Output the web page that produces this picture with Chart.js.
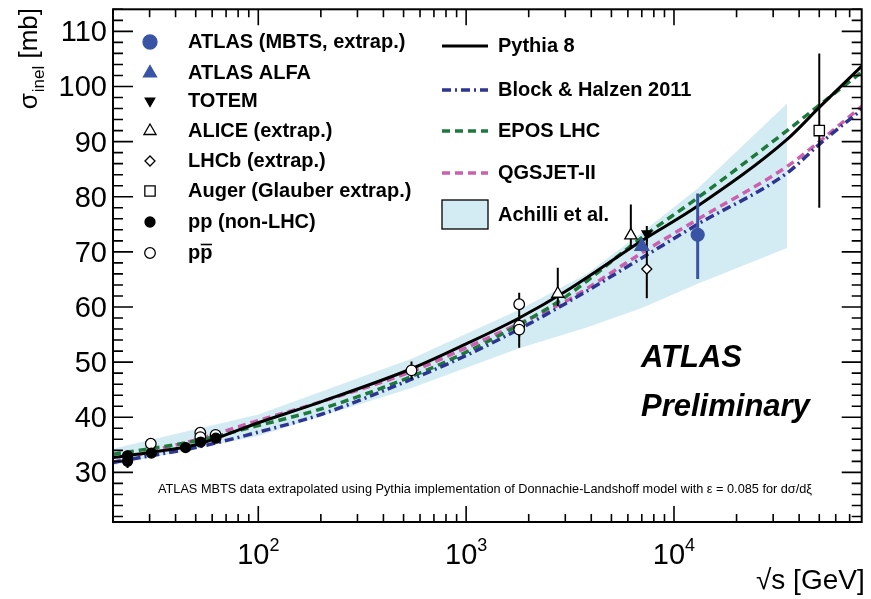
<!DOCTYPE html>
<html>
<head>
<meta charset="utf-8">
<script src="https://cdn.jsdelivr.net/npm/chart.js@4"></script>
<style>
  body { margin: 0; background: #fff; }
  canvas { display: block; }
</style>
</head>
<body>
<canvas id="chart" width="871" height="599"></canvas>
<script>
// model predictions, sampled at sqrt(s) in GeV
const modelEnergy = [20, 30, 50, 100, 200, 546, 1000, 1800, 3000, 7000, 13000, 35000, 50000, 80000];
const pythia8     = [32.7, 33.6, 35.0, 39.0, 42.8, 48.8, 53.3, 58.0, 62.8, 72.0, 78.3, 90.4, 96.2, 103.7];
const blockHalzen = [31.8, 33.0, 34.5, 37.3, 40.5, 46.9, 51.2, 56.0, 60.6, 68.9, 75.0, 84.3, 89.5, 95.8];
const eposLhc     = [33.3, 34.3, 35.7, 38.5, 41.5, 47.4, 51.8, 56.8, 61.8, 72.6, 79.8, 92.0, 96.6, 102.6];
const qgsjet2     = [31.8, 33.8, 35.9, 39.4, 42.8, 48.3, 52.6, 57.0, 61.0, 69.8, 75.9, 85.5, 90.0, 96.4];

// Achilli et al. band
const bandEnergy = [20, 100, 546, 1800, 3800, 7000, 13000, 35000];
const bandHigh   = [34.3, 40.5, 50.6, 59.5, 66.0, 73.5, 81.5, 96.9];
const bandLow    = [31.3, 36.6, 45.3, 52.5, 56.3, 59.8, 64.2, 70.7];

// measurements: energy, sigma_inel, error up, error down
const atlasMbtsE = [13000], atlasMbtsS = [73.1], atlasMbtsUp = [7.5], atlasMbtsDn = [8.0];
const atlasAlfaE = [7000], atlasAlfaS = [71.0], atlasAlfaUp = [0.9], atlasAlfaDn = [0.9];
const totemE = [7400], totemS = [73.3], totemUp = [1.4], totemDn = [1.4];
const aliceE = [2760, 6200], aliceS = [62.4, 73.0], aliceUp = [4.7, 5.6], aliceDn = [2.2, 2.5];
const lhcbE = [7400], lhcbS = [66.9], lhcbUp = [5.3], lhcbDn = [5.3];
const augerE = [50000], augerS = [92.0], augerUp = [14.0], augerDn = [14.0];
const ppE = [23.5, 23.5, 30.6, 44.7, 52.8, 62.5];
const ppS = [33.0, 32.0, 33.5, 34.5, 35.5, 36.2];
const ppUp = [0.6, 0.6, 0.5, 0.4, 0.5, 0.5];
const ppDn = [0.6, 1.2, 0.5, 0.4, 0.5, 0.5];
const ppbarE = [30.4, 52.6, 52.6, 62.3, 546, 1800, 1800, 1800];
const ppbarS = [35.2, 37.2, 36.4, 36.8, 48.5, 60.5, 56.6, 55.9];
const ppbarUp = [0.5, 0.5, 0.5, 0.5, 1.6, 2.1, 2.0, 2.3];
const ppbarDn = [0.5, 0.5, 0.5, 0.5, 1.6, 2.1, 2.0, 3.3];

// axis ticks
const yTicks = [30, 40, 50, 60, 70, 80, 90, 100, 110];
const xTicks = [100, 1000, 10000];
const xTickExp = ['2', '3', '4'];

const atlasBlue = '#3a54a5';
const bandColor = '#d3ecf3';
const FONT = '"Liberation Sans", Arial, Helvetica, sans-serif';

function pts(xs, ys) {
    return xs.map((v, i) => ({ x: v, y: ys[i] }));
}

function markers(label, xs, ys, up, dn, style) {
    return Object.assign({
        label: label,
        data: pts(xs, ys),
        errUp: up,
        errDn: dn,
        showLine: false,
        order: 1,
        pointBorderWidth: 1.3,
        errColor: '#000',
        errWidth: 2
    }, style);
}

function curve(label, ys, color, dash, width) {
    return {
        label: label,
        data: pts(modelEnergy, ys),
        borderColor: color,
        borderWidth: width,
        borderDash: dash,
        pointRadius: 0,
        cubicInterpolationMode: 'monotone',
        fill: false,
        order: 2
    };
}

const datasets = [
    markers('ATLAS (MBTS, extrap.)', atlasMbtsE, atlasMbtsS, atlasMbtsUp, atlasMbtsDn,
        { pointStyle: 'circle', pointRadius: 6.5, pointBackgroundColor: atlasBlue, pointBorderColor: atlasBlue, errColor: atlasBlue, errWidth: 3 }),
    markers('ATLAS ALFA', atlasAlfaE, atlasAlfaS, atlasAlfaUp, atlasAlfaDn,
        { pointStyle: 'triangle', pointRadius: 8, pointBackgroundColor: atlasBlue, pointBorderColor: atlasBlue, errColor: atlasBlue }),
    markers('TOTEM', totemE, totemS, totemUp, totemDn,
        { pointStyle: 'triangle', pointRotation: 180, pointRadius: 5.5, pointBackgroundColor: '#000', pointBorderColor: '#000' }),
    markers('ALICE (extrap.)', aliceE, aliceS, aliceUp, aliceDn,
        { pointStyle: 'triangle', pointRadius: 7, pointBackgroundColor: '#fff', pointBorderColor: '#000' }),
    markers('LHCb (extrap.)', lhcbE, lhcbS, lhcbUp, lhcbDn,
        { pointStyle: 'rectRot', pointRadius: 5, pointBackgroundColor: '#fff', pointBorderColor: '#000' }),
    markers('Auger (Glauber extrap.)', augerE, augerS, augerUp, augerDn,
        { pointStyle: 'rect', pointRadius: 7.3, pointBackgroundColor: '#fff', pointBorderColor: '#000' }),
    markers('pp (non-LHC)', ppE, ppS, ppUp, ppDn,
        { pointStyle: 'circle', pointRadius: 5, pointBackgroundColor: '#000', pointBorderColor: '#000' }),
    markers('ppbar', ppbarE, ppbarS, ppbarUp, ppbarDn,
        { pointStyle: 'circle', pointRadius: 5.3, pointBackgroundColor: '#fff', pointBorderColor: '#000' }),
    curve('Pythia 8', pythia8, '#000', [], 3),
    curve('Block & Halzen 2011', blockHalzen, '#2d3591', [9, 4, 2, 4], 3.5),
    curve('EPOS LHC', eposLhc, '#1d7a3c', [8, 5], 3.5),
    curve('QGSJET-II', qgsjet2, '#cc5fae', [8, 5], 3.5),
    {
        label: 'Achilli high', data: pts(bandEnergy, bandHigh),
        borderWidth: 0, borderColor: 'transparent', pointRadius: 0,
        backgroundColor: bandColor, fill: '+1', order: 3
    },
    {
        label: 'Achilli low', data: pts(bandEnergy, bandLow),
        borderWidth: 0, borderColor: 'transparent', pointRadius: 0,
        fill: false, order: 3
    }
];

// vertical error bars, drawn just before the markers of each dataset
const errorBars = {
    id: 'errorBars',
    beforeDatasetDraw(chart, args) {
        const ds = chart.data.datasets[args.index];
        if (!ds.errUp) return;
        const { ctx, chartArea: a, scales: { x, y } } = chart;
        ctx.save();
        ctx.beginPath();
        ctx.rect(a.left, a.top, a.right - a.left, a.bottom - a.top);
        ctx.clip();
        ctx.strokeStyle = ds.errColor;
        ctx.lineWidth = ds.errWidth;
        ds.data.forEach((p, i) => {
            const px = x.getPixelForValue(p.x);
            ctx.beginPath();
            ctx.moveTo(px, y.getPixelForValue(p.y + ds.errUp[i]));
            ctx.lineTo(px, y.getPixelForValue(p.y - ds.errDn[i]));
            ctx.stroke();
        });
        ctx.restore();
    }
};

// ROOT style frame: inward ticks on all four sides, labels, titles, legend
const frame = {
    id: 'frame',
    afterDraw(chart) {
        const { ctx, chartArea: a, scales: { x, y } } = chart;
        ctx.save();
        ctx.strokeStyle = '#000';
        ctx.fillStyle = '#000';
        ctx.lineWidth = 2;
        ctx.strokeRect(a.left, a.top, a.right - a.left, a.bottom - a.top);

        ctx.lineWidth = 1.6;
        ctx.beginPath();
        for (let v = 22; v <= 114; v += 2) {
            const py = y.getPixelForValue(v);
            const len = v % 10 === 0 ? 20 : 10;
            ctx.moveTo(a.left, py); ctx.lineTo(a.left + len, py);
            ctx.moveTo(a.right, py); ctx.lineTo(a.right - len, py);
        }
        [10, 100, 1000, 10000].forEach(dec => {
            for (let m = 1; m <= 9; m++) {
                const v = m * dec;
                if (v < 20 || v >= 80000) continue;
                const px = x.getPixelForValue(v);
                const len = m === 1 ? 16 : 8;
                ctx.moveTo(px, a.bottom); ctx.lineTo(px, a.bottom - len);
                ctx.moveTo(px, a.top); ctx.lineTo(px, a.top + len);
            }
        });
        ctx.stroke();

        // tick labels
        ctx.font = '29px ' + FONT;
        ctx.textAlign = 'right';
        ctx.textBaseline = 'alphabetic';
        yTicks.forEach(v => ctx.fillText(String(v), a.left - 6, y.getPixelForValue(v) + 10));

        xTicks.forEach((v, i) => {
            const px = x.getPixelForValue(v);
            ctx.font = '29px ' + FONT;
            const w1 = ctx.measureText('10').width;
            ctx.font = '18px ' + FONT;
            const w2 = ctx.measureText(xTickExp[i]).width;
            const x0 = px - (w1 + w2) / 2;
            ctx.textAlign = 'left';
            ctx.font = '29px ' + FONT;
            ctx.fillText('10', x0, 564);
            ctx.font = '18px ' + FONT;
            ctx.fillText(xTickExp[i], x0 + w1, 551);
        });

        // axis titles
        ctx.textAlign = 'right';
        ctx.font = '28px ' + FONT;
        ctx.fillText('\u221As [GeV]', a.right + 3, 589);

        ctx.save();
        ctx.textAlign = 'left';
        ctx.font = '26px ' + FONT;
        const wSig = ctx.measureText('\u03C3').width + 1;
        const wMb = ctx.measureText(' [mb]').width;
        ctx.font = '17px ' + FONT;
        const wSub = ctx.measureText('inel').width;
        ctx.translate(37, 8 + wSig + wSub + wMb);
        ctx.rotate(-Math.PI / 2);
        ctx.font = '26px ' + FONT;
        ctx.fillText('\u03C3', 0, 0);
        ctx.font = '17px ' + FONT;
        ctx.fillText('inel', wSig, 7);
        ctx.font = '26px ' + FONT;
        ctx.fillText(' [mb]', wSig + wSub, 0);
        ctx.restore();

        // ATLAS Preliminary
        ctx.textAlign = 'left';
        ctx.font = 'italic bold 31px ' + FONT;
        ctx.fillText('ATLAS', 641, 367);
        ctx.fillText('Preliminary', 641, 416);

        // note
        const note = 'ATLAS MBTS data extrapolated using Pythia implementation of Donnachie-Landshoff model with \u03B5 = 0.085 for d\u03C3/d\u03BE';
        ctx.font = '11px ' + FONT;
        const size = 11 * 654 / ctx.measureText(note).width;
        ctx.font = size.toFixed(2) + 'px ' + FONT;
        ctx.fillText(note, 158, 493);

        // legend, left column: markers
        const legendFont = 'bold 20px ' + FONT;
        const draw = Chart.helpers.drawPoint;
        const rowsY = [42, 73, 101, 131, 161, 191, 222, 253];
        const leftLabels = ['ATLAS (MBTS, extrap.)', 'ATLAS ALFA', 'TOTEM', 'ALICE (extrap.)',
            'LHCb (extrap.)', 'Auger (Glauber extrap.)', 'pp (non-LHC)', 'pp'];
        leftLabels.forEach((lab, i) => {
            const ds = chart.data.datasets[i];
            ctx.save();
            ctx.fillStyle = ds.pointBackgroundColor;
            ctx.strokeStyle = ds.pointBorderColor;
            ctx.lineWidth = ds.pointBorderWidth;
            const r = i === 0 ? 7 : (i === 1 ? 7.5 : ds.pointRadius);
            draw(ctx, { pointStyle: ds.pointStyle, radius: r, rotation: ds.pointRotation || 0, borderWidth: ds.pointBorderWidth }, 150, rowsY[i]);
            ctx.restore();
            ctx.font = legendFont;
            ctx.textBaseline = 'middle';
            ctx.fillText(lab, 188, rowsY[i]);
        });
        // overline for p-bar
        ctx.font = legendFont;
        const pw = ctx.measureText('p').width;
        ctx.lineWidth = 1.6;
        ctx.beginPath();
        ctx.moveTo(188 + pw + 0.5, rowsY[7] - 8.5);
        ctx.lineTo(188 + 2 * pw - 0.5, rowsY[7] - 8.5);
        ctx.stroke();

        // legend, right column: curves and band
        const rightY = [46, 90, 131, 173];
        [8, 9, 10, 11].forEach((k, i) => {
            const ds = chart.data.datasets[k];
            ctx.save();
            ctx.strokeStyle = ds.borderColor;
            ctx.lineWidth = ds.borderWidth;
            ctx.setLineDash(ds.borderDash);
            ctx.beginPath();
            ctx.moveTo(442, rightY[i]);
            ctx.lineTo(488, rightY[i]);
            ctx.stroke();
            ctx.restore();
            ctx.fillText(ds.label, 498, rightY[i]);
        });
        ctx.fillStyle = bandColor;
        ctx.fillRect(442, 200, 46, 29);
        ctx.lineWidth = 1.3;
        ctx.strokeRect(442, 200, 46, 29);
        ctx.fillStyle = '#000';
        ctx.fillText('Achilli et al.', 498, 215);
        ctx.restore();
    }
};

new Chart(document.getElementById('chart'), {
    type: 'line',
    data: { datasets: datasets },
    options: {
        responsive: false,
        animation: false,
        events: [],
        layout: { padding: { left: 0, right: 5, top: 7, bottom: 0 } },
        plugins: { legend: { display: false }, tooltip: { enabled: false } },
        scales: {
            x: {
                type: 'logarithmic', min: 20, max: 80000,
                ticks: { display: false }, grid: { display: false }, border: { display: false },
                afterFit(scale) { scale.height = 77; }
            },
            y: {
                type: 'linear', min: 21, max: 114,
                ticks: { display: false }, grid: { display: false }, border: { display: false },
                afterFit(scale) { scale.width = 113; }
            }
        }
    },
    plugins: [errorBars, frame]
});
</script>
</body>
</html>
